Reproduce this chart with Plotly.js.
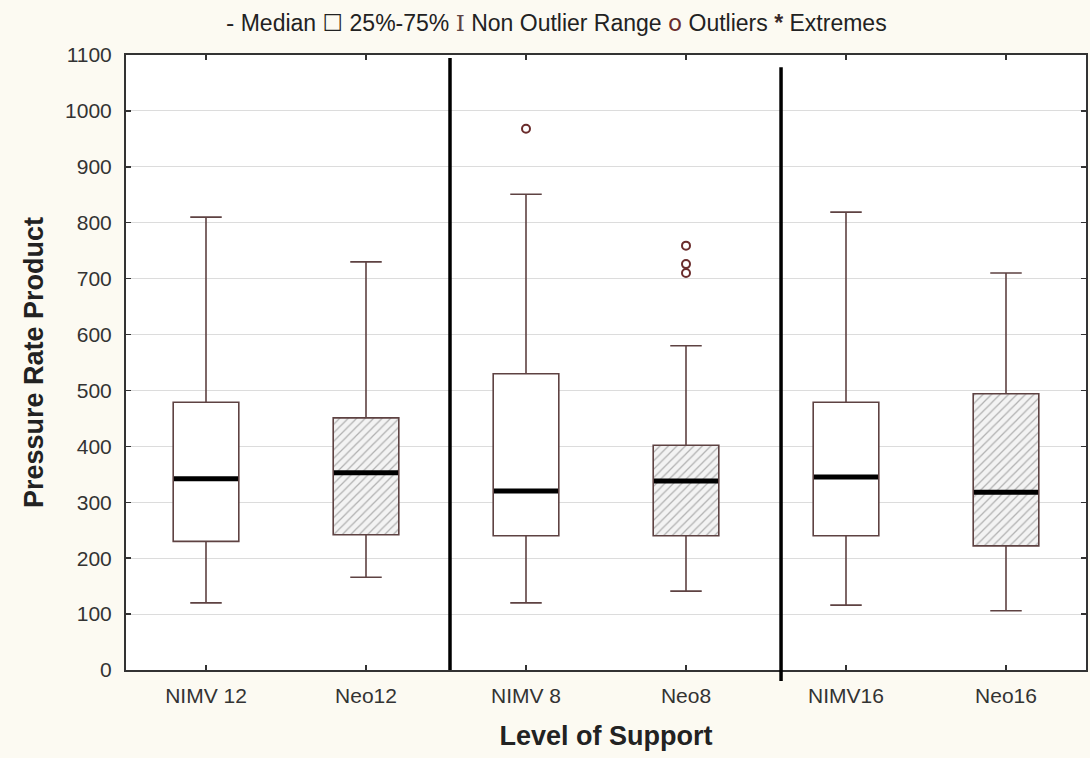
<!DOCTYPE html>
<html>
<head>
<meta charset="utf-8">
<script src="https://cdn.plot.ly/plotly-3.0.1.min.js"></script>
<style>html,body{margin:0;padding:0;background:#fcfaf2;}#chart{width:1090px;height:758px;}</style>
</head>
<body>
<div id="chart"></div>
<script>
// ---- data ----
const categories    = ['NIMV 12', 'Neo12', 'NIMV 8', 'Neo8', 'NIMV16', 'Neo16'];
const lowerWhisker  = [120, 166, 120, 141, 116, 106];
const q1            = [230, 242, 240, 240, 240, 222];
const median        = [342, 353, 320, 338, 345, 318];
const q3            = [479, 451, 530, 402, 479, 494];
const upperWhisker  = [810, 730, 851, 580, 819, 710];
const hatched       = [false, true, false, true, false, true];
const outlierCategory = ['NIMV 8', 'Neo8', 'Neo8', 'Neo8'];
const outlierValue    = [968, 759, 726, 710];
const yTicks = [0, 100, 200, 300, 400, 500, 600, 700, 800, 900, 1000, 1100];

// ---- build traces ----
const idx = categories.map((c, i) => i);
const boxW = 0.41;
const lineCol = '#5e4242';

const fillBars = {
  type: 'bar',
  x: idx,
  base: q1,
  y: q3.map((v, i) => v - q1[i]),
  width: boxW,
  marker: {
    color: '#ffffff',
    line: {width: 0},
    pattern: {
      shape: hatched.map(h => h ? '/' : ''),
      fgcolor: '#b0b0b0',
      bgcolor: '#f3f3f3',
      size: 6,
      solidity: 0.2
    }
  },
  hoverinfo: 'skip',
  showlegend: false
};

const boxes = {
  type: 'box',
  x: idx,
  q1: q1,
  median: median,
  q3: q3,
  lowerfence: lowerWhisker,
  upperfence: upperWhisker,
  width: boxW,
  whiskerwidth: 0.48,
  fillcolor: 'rgba(0,0,0,0)',
  line: {color: lineCol, width: 1.6},
  boxpoints: false,
  hoverinfo: 'skip',
  showlegend: false
};

const mx = [], my = [];
idx.forEach(i => { mx.push(i - boxW / 2 + 0.005, i + boxW / 2 - 0.005, null); my.push(median[i], median[i], null); });
const medians = {
  type: 'scatter', mode: 'lines', x: mx, y: my,
  line: {color: '#000000', width: 5},
  hoverinfo: 'skip', showlegend: false
};

const outliers = {
  type: 'scatter', mode: 'markers',
  x: outlierCategory.map(c => categories.indexOf(c)),
  y: outlierValue,
  marker: {symbol: 'circle-open', size: 8, color: '#6a2c2c', line: {width: 2, color: '#6a2c2c'}},
  hoverinfo: 'skip', showlegend: false
};

const titleFont = {size: 27, color: '#222', family: 'Liberation Sans, Arial, sans-serif', weight: 'bold'};

const layout = {
  width: 1090, height: 758,
  margin: {l: 126, r: 4, t: 55, b: 88},
  paper_bgcolor: '#fcfaf2',
  plot_bgcolor: '#ffffff',
  font: {family: 'Liberation Sans, Arial, sans-serif', color: '#333333', size: 21},
  showlegend: false,
  xaxis: {
    range: [-0.5, 5.5],
    tickvals: idx, ticktext: categories,
    ticks: 'inside', ticklen: 5, tickcolor: '#333', tickwidth: 1.5,
    showline: true, linecolor: '#333', linewidth: 2, mirror: 'ticks',
    showgrid: false, zeroline: false,
    tickfont: {size: 21, color: '#333'},
    ticklabelstandoff: 6,
    title: {text: 'Level of Support', font: titleFont, standoff: 20}
  },
  yaxis: {
    range: [0, 1100],
    tickvals: yTicks,
    ticks: 'inside', ticklen: 5, tickcolor: '#333', tickwidth: 1.5,
    showline: true, linecolor: '#333', linewidth: 2, mirror: 'ticks',
    showgrid: true, gridcolor: '#dcdcdc', gridwidth: 1, zeroline: false,
    tickfont: {size: 21, color: '#333'},
    ticklabelstandoff: 8,
    title: {text: 'Pressure Rate Product', font: titleFont, standoff: 14}
  },
  shapes: [
    {type: 'line', xref: 'paper', yref: 'paper', x0: (1.525 + 0.5) / 6, x1: (1.525 + 0.5) / 6, y0: 0, y1: 0.995, line: {color: '#000', width: 3.5}},
    {type: 'line', xref: 'paper', yref: 'paper', x0: (3.594 + 0.5) / 6, x1: (3.594 + 0.5) / 6, y0: -0.018, y1: 0.980, line: {color: '#000', width: 3.5}}
  ],
  annotations: [{
    xref: 'paper', yref: 'paper', x: 0.448, y: 1.052, xanchor: 'center', yanchor: 'middle', showarrow: false,
    font: {size: 23, color: '#222'},
    text: '<span style="font-family:DejaVu Sans">-</span> Median <span style="font-family:DejaVu Sans">☐</span> 25%-75% <span style="font-family:DejaVu Serif;color:#5e4242">I</span> Non Outlier Range <span style="color:#6a2c2c;font-family:DejaVu Sans">o</span> Outliers <span style="color:#3a2a2a;font-weight:bold">*</span> Extremes'
  }]
};

Plotly.newPlot('chart', [fillBars, boxes, medians, outliers], layout, {displayModeBar: false, staticPlot: true});
</script>
</body>
</html>
